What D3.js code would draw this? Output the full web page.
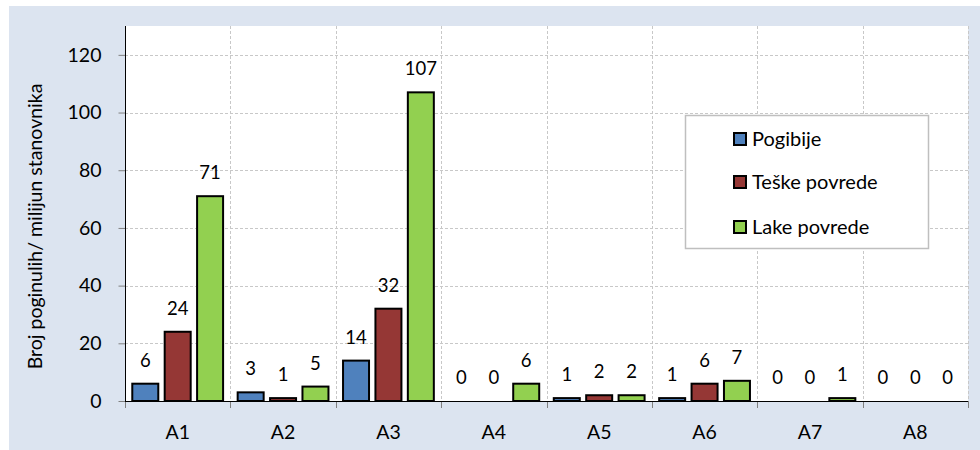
<!DOCTYPE html>
<html><head><meta charset="utf-8">
<script src="https://cdn.jsdelivr.net/npm/d3@7"></script>
<style>body{margin:0;background:#fff;} svg{display:block;font-family:Lato,"Open Sans",sans-serif;}</style>
</head><body>
<svg id="c" width="980" height="450"></svg>
<script>
const categories = ["A1","A2","A3","A4","A5","A6","A7","A8"];
const seriesNames = ["Pogibije","Teške povrede","Lake povrede"];
const pogibije = [6,3,14,0,1,1,0,0];
const teske = [24,1,32,0,2,6,0,0];
const lake = [71,5,107,6,2,7,1,0];
const yTicks = [0,20,40,60,80,100,120];
const colors = ["#4f81bd","#953735","#92d050"];
const yTitle = "Broj poginulih/ milijun stanovnika";

const seriesVals = [pogibije, teske, lake];
const svg = d3.select("#c");
svg.append("rect").attr("x",9).attr("y",6).attr("width",971).attr("height",444).attr("fill","#dce4f0");

const L=125, R=968, T=26, B=401;
svg.append("rect").attr("x",L).attr("y",T).attr("width",R-L).attr("height",B-T).attr("fill","#fff");

const x0 = d3.scaleBand().domain(categories).range([L,R]).padding(0);
const x1 = d3.scaleBand().domain(seriesNames).range([0,x0.bandwidth()]).paddingInner(0.136).paddingOuter(0.194);
const y = d3.scaleLinear().domain([0,130]).range([B,T]);

// gridlines
const grid = svg.append("g").attr("stroke","#c8c8c8").attr("stroke-dasharray","3,2").attr("stroke-width",1);
yTicks.filter(v=>v>0).forEach(v=>{
  grid.append("line").attr("x1",L).attr("x2",R).attr("y1",Math.round(y(v))+0.5).attr("y2",Math.round(y(v))+0.5);
});
categories.forEach((c,i)=>{
  const xx = Math.round(x0(c)+x0.bandwidth())+0.5;
  grid.append("line").attr("x1",xx).attr("x2",xx).attr("y1",T).attr("y2",B);
});

// bars
categories.forEach((c,i)=>{
  seriesNames.forEach((s,j)=>{
    const v = seriesVals[j][i];
    const bx = x0(c)+x1(s);
    const bw = x1.bandwidth();
    if(v>0){
      svg.append("rect").attr("x",bx+1).attr("y",y(v)).attr("width",bw-2).attr("height",Math.max(0,B-y(v)))
        .attr("fill",colors[j]).attr("stroke","#000").attr("stroke-width",2);
    }
    svg.append("text").attr("x",bx+bw/2).attr("y",y(v)-17).attr("text-anchor","middle")
      .attr("font-size",18.5).attr("fill","#000").text(v);
  });
});

// axes
const yAxis = d3.axisLeft(y).tickValues(yTicks).tickSize(7).tickPadding(17);
const gy = svg.append("g").attr("transform",`translate(${L+0.5},0)`).call(yAxis);
gy.select(".domain").remove();
gy.selectAll(".tick line").attr("stroke","#808080");
gy.selectAll(".tick text").attr("font-size",19.5).attr("font-family","Lato").attr("fill","#000");
svg.append("line").attr("x1",L+0.5).attr("x2",L+0.5).attr("y1",T).attr("y2",B).attr("stroke","#000");

const xAxis = d3.axisBottom(x0).tickSize(0).tickPadding(24);
const gx = svg.append("g").attr("transform",`translate(0,${B+0.5})`).call(xAxis);
gx.select(".domain").remove();
gx.selectAll(".tick text").attr("font-size",19.5).attr("font-family","Lato").attr("fill","#000");
[L].concat(categories.map(c=>x0(c)+x0.bandwidth())).forEach(xx=>{
  svg.append("line").attr("x1",Math.round(xx)+0.5).attr("x2",Math.round(xx)+0.5).attr("y1",B).attr("y2",B+7).attr("stroke","#808080");
});
svg.append("line").attr("x1",L).attr("x2",R).attr("y1",B+0.5).attr("y2",B+0.5).attr("stroke","#000");

// y title
svg.append("text").attr("transform","translate(42,226.5) rotate(-90)").attr("text-anchor","middle")
  .attr("font-size",19.5).attr("fill","#000").text(yTitle);

// legend
const lg = svg.append("g");
lg.append("rect").attr("x",685.5).attr("y",115.5).attr("width",243).attr("height",133)
  .attr("fill","#fff").attr("stroke","#bfbfbf").attr("stroke-width",1.5);
const rowsY = [139,182,227];
seriesNames.forEach((s,j)=>{
  lg.append("rect").attr("x",734).attr("y",rowsY[j]-6).attr("width",12).attr("height",12)
    .attr("fill",colors[j]).attr("stroke","#000").attr("stroke-width",2);
  lg.append("text").attr("x",752).attr("y",rowsY[j]+7).attr("font-size",20).attr("fill","#000").text(s);
});
</script>
</body></html>
